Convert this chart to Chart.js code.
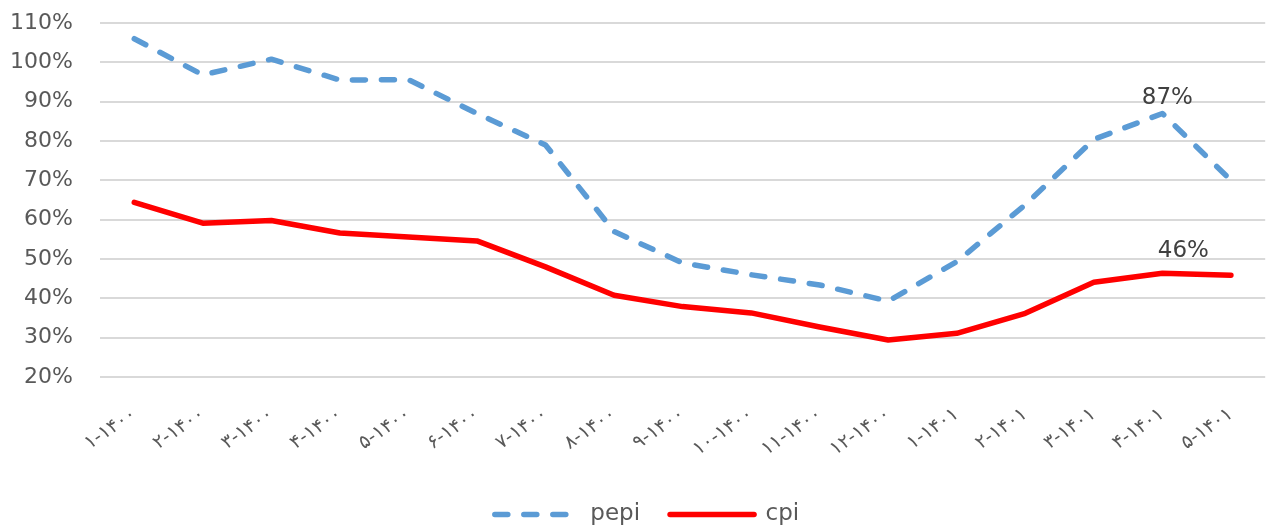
<!DOCTYPE html>
<html>
<head>
<meta charset="utf-8">
<script src="https://cdn.jsdelivr.net/npm/chart.js@4.4.1/dist/chart.umd.min.js"></script>
<style>
  html, body { margin: 0; padding: 0; background: #ffffff; overflow: hidden; }
  #wrap { position: relative; width: 1270px; height: 530px; }
</style>
</head>
<body>
<div id="wrap"><canvas id="c" width="1270" height="530"></canvas></div>
<script>
// ---- data ----
const categories = [
  "۱-۱۴۰۰", "۲-۱۴۰۰", "۳-۱۴۰۰", "۴-۱۴۰۰", "۵-۱۴۰۰", "۶-۱۴۰۰",
  "۷-۱۴۰۰", "۸-۱۴۰۰", "۹-۱۴۰۰", "۱۰-۱۴۰۰", "۱۱-۱۴۰۰", "۱۲-۱۴۰۰",
  "۱-۱۴۰۱", "۲-۱۴۰۱", "۳-۱۴۰۱", "۴-۱۴۰۱", "۵-۱۴۰۱"
];
const pepiValues = [106, 96.8, 100.8, 95.5, 95.6, 87, 79, 57, 49, 46, 43.4, 39.3, 49.3, 63.8, 80.4, 87, 70];
const cpiValues  = [64.4, 59.1, 59.8, 56.6, 55.6, 54.6, 48, 40.8, 37.9, 36.3, 32.7, 29.4, 31.1, 36.2, 44.1, 46.4, 45.9];
const seriesNames = ["pepi", "cpi"];
const yTickValues = [20, 30, 40, 50, 60, 70, 80, 90, 100, 110];
const labelledPoints = [
  { series: 0, index: 15 },
  { series: 1, index: 15 }
];

// ---- value labels plugin (positions come from the chart's scales) ----
const valueLabels = {
  id: 'valueLabels',
  afterDatasetsDraw(chart, args, opts) {
    const ctx = chart.ctx;
    ctx.save();
    ctx.font = opts.font;
    ctx.fillStyle = opts.color;
    ctx.textAlign = 'center';
    ctx.textBaseline = 'middle';
    opts.points.forEach((p, k) => {
      const meta = chart.getDatasetMeta(p.series);
      const el = meta.data[p.index];
      const v = chart.data.datasets[p.series].data[p.index];
      const off = opts.offsets[k];
      ctx.fillText(Math.round(v) + '%', el.x + off[0], el.y + off[1]);
    });
    ctx.restore();
  }
};

// nudge the legend box so its centre matches the reference
const legendNudge = {
  id: 'legendNudge',
  afterLayout(chart) {
    if (chart.legend) chart.legend.left += 24;
  }
};

const ctx = document.getElementById('c').getContext('2d');
new Chart(ctx, {
  type: 'line',
  data: {
    labels: categories,
    datasets: [
      {
        label: seriesNames[0],
        data: pepiValues,
        borderColor: '#5b9bd5',
        backgroundColor: '#5b9bd5',
        borderWidth: 5.5,
        borderDash: [13, 16],
        borderCapStyle: 'round',
        borderJoinStyle: 'round',
        pointRadius: 0,
        tension: 0,
        fill: false
      },
      {
        label: seriesNames[1],
        data: cpiValues,
        borderColor: '#ff0000',
        backgroundColor: '#ff0000',
        borderWidth: 5.5,
        borderCapStyle: 'round',
        borderJoinStyle: 'round',
        pointRadius: 0,
        tension: 0,
        fill: false
      }
    ]
  },
  options: {
    responsive: false,
    animation: false,
    devicePixelRatio: 1,
    layout: { padding: { top: 23, right: 0, bottom: -6, left: 0 } },
    scales: {
      x: {
        type: 'category',
        offset: true,
        grid: { display: false, drawTicks: false },
        border: { display: false },
        afterFit(scale) { scale.height = 96; },
        ticks: {
          color: '#595959',
          font: { family: 'DejaVu Sans', size: 19 },
          minRotation: 35,
          maxRotation: 35,
          autoSkip: false,
          padding: 26
        }
      },
      y: {
        min: 20,
        max: 110,
        afterFit(scale) { scale.width = 100; },
        afterBuildTicks(scale) { scale.ticks = yTickValues.map(v => ({ value: v })); },
        grid: { color: '#d9d9d9', lineWidth: 2, drawTicks: true, tickLength: 22, tickColor: 'rgba(0,0,0,0)' },
        border: { display: false },
        ticks: {
          color: '#595959',
          font: { family: 'DejaVu Sans', size: 22 },
          padding: 5,
          callback: (v) => v + '%'
        }
      }
    },
    plugins: {
      legend: {
        position: 'bottom',
        align: 'center',
        labels: {
          usePointStyle: true,
          pointStyle: 'line',
          pointStyleWidth: 84,
          padding: 30,
          color: '#595959',
          font: { family: 'DejaVu Sans', size: 23 },
          generateLabels(chart) {
            const items = Chart.defaults.plugins.legend.labels.generateLabels(chart);
            items.forEach(it => {
              const ds = chart.data.datasets[it.datasetIndex];
              it.lineDash = ds.borderDash || [];
              it.lineWidth = ds.borderWidth;
              it.lineCap = ds.borderCapStyle;
              it.strokeStyle = ds.borderColor;
              it.pointStyle = 'line';
            });
            return items;
          }
        }
      },
      tooltip: { enabled: false },
      valueLabels: {
        points: labelledPoints,
        offsets: [[5, -15], [21, -22]],
        font: '23px "DejaVu Sans"',
        color: '#404040'
      }
    }
  },
  plugins: [valueLabels, legendNudge]
});
</script>
</body>
</html>
